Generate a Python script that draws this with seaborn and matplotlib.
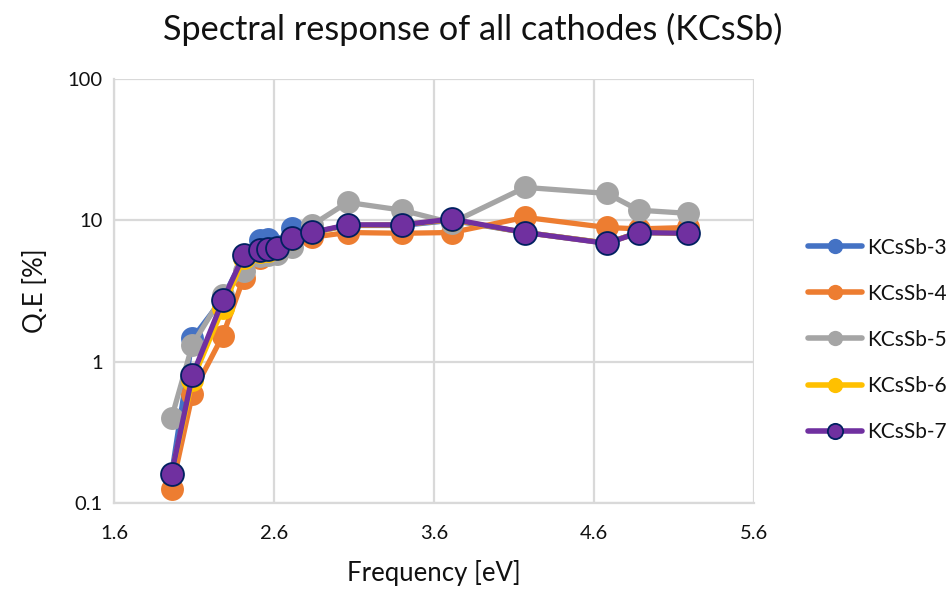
import matplotlib
matplotlib.use("Agg")
import matplotlib.pyplot as plt
import matplotlib.ticker as mticker
import numpy as np
import pandas as pd
import seaborn as sns

# Photon energies of the light sources [eV]
energy = [1.96, 2.09, 2.28, 2.41, 2.51, 2.56, 2.62, 2.71, 2.84, 3.06, 3.40, 3.71, 4.17, 4.68, 4.88, 5.19]

# Quantum efficiency [%] for each cathode
qe_k3 = [0.16, 1.46, 2.80, 5.50, 7.20, 7.40, 6.60, 8.80, 8.20, 9.20, 9.20, 10.0, 8.20, 6.90, 8.20, 8.10]
qe_k4 = [0.125, 0.59, 1.53, 3.90, 5.40, 5.80, 6.00, 7.20, 7.60, 8.20, 8.10, 8.20, 10.5, 8.90, 8.70, 8.90]
qe_k5 = [0.40, 1.32, 2.95, 4.40, 5.60, 5.70, 5.80, 6.50, 9.30, 13.4, 11.8, 9.60, 17.1, 15.5, 11.8, 11.2]
qe_k6 = [0.16, 0.74, 2.38, 5.40, 6.00, 6.10, 6.30, 7.40, 8.20, 9.20, 9.30, 10.1, 8.20, 6.90, 8.20, 8.10]
qe_k7 = [0.161, 0.80, 2.71, 5.65, 6.12, 6.22, 6.33, 7.45, 8.22, 9.29, 9.30, 10.2, 8.20, 6.87, 8.20, 8.10]

series_names = ["KCsSb-3", "KCsSb-4", "KCsSb-5", "KCsSb-6", "KCsSb-7"]
series_values = [qe_k3, qe_k4, qe_k5, qe_k6, qe_k7]

x_ticks = [1.6, 2.6, 3.6, 4.6, 5.6]
y_ticks = [0.1, 1, 10, 100]
y_tick_labels = ["0.1", "1", "10", "100"]

colors = ["#4472C4", "#ED7D31", "#A5A5A5", "#FFC000", "#7030A0"]
edges = [None, None, None, None, "#002060"]

sns.set_theme(style="white")
plt.rcParams["font.family"] = ["Lato", "DejaVu Sans"]

df = pd.DataFrame({
    "energy": np.tile(energy, len(series_names)),
    "qe": np.concatenate(series_values),
    "cathode": np.repeat(series_names, len(energy)),
})

fig = plt.figure(figsize=(9.48, 5.91), dpi=100)
ax = fig.add_axes([114 / 948, 88 / 591, 640 / 948, 424 / 591])

for name, col, edge in zip(series_names, colors, edges):
    sub = df[df["cathode"] == name]
    sns.lineplot(
        data=sub, x="energy", y="qe", ax=ax, sort=False,
        color=col, linewidth=3.8, marker="o", markersize=16.5,
        markeredgecolor=edge if edge else col,
        markeredgewidth=1.3 if edge else 0,
        label=name, zorder=3,
    )

ax.set_yscale("log")
ax.set_xlim(1.6, 5.6)
ax.set_ylim(0.1, 100)
ax.xaxis.set_major_locator(mticker.FixedLocator(x_ticks))
ax.xaxis.set_major_formatter(mticker.FixedFormatter([f"{t:.1f}" for t in x_ticks]))
ax.yaxis.set_major_locator(mticker.FixedLocator(y_ticks))
ax.yaxis.set_major_formatter(mticker.FixedFormatter(y_tick_labels))
ax.yaxis.set_minor_locator(mticker.NullLocator())

ax.grid(True, which="major", color="#D9D9D9", linewidth=1.6, zorder=0)
ax.set_axisbelow(True)
for side in ["top", "right"]:
    ax.spines[side].set_visible(False)
for side in ["left", "bottom"]:
    ax.spines[side].set_color("#D9D9D9")
    ax.spines[side].set_linewidth(1.6)

ax.tick_params(axis="x", length=0, labelsize=14.5, colors="#111111", pad=16)
ax.tick_params(axis="y", length=0, labelsize=14.5, colors="#111111", pad=8)
ax.set_xlabel("Frequency [eV]", fontsize=18.5, color="#111111", labelpad=13)
ax.set_ylabel("Q.E [%]", fontsize=18.5, color="#111111", labelpad=14)

fig.suptitle("Spectral response of all cathodes (KCsSb)", x=0.499, y=0.978,
             fontsize=24.7, color="#111111")

leg = ax.legend(loc="center left", bbox_to_anchor=(1.071, 0.385), frameon=False,
                fontsize=15, handlelength=2.6, labelspacing=1.25, handletextpad=0.25,
                borderaxespad=0)
for h in leg.legend_handles:
    h.set_markersize(11)
    h.set_linewidth(4)
for t in leg.get_texts():
    t.set_color("#111111")

fig.savefig("out.png", dpi=100)
